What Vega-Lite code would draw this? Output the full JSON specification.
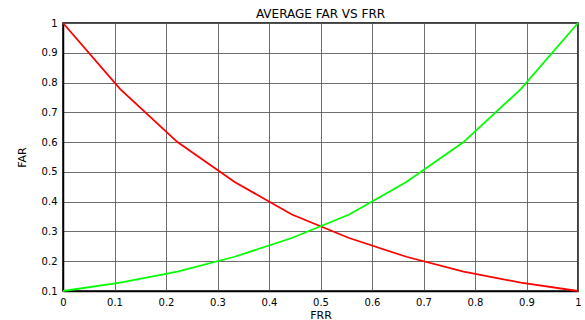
{
  "$schema": "https://vega.github.io/schema/vega-lite/v6.json",
  "width": 515,
  "height": 268,
  "autosize": {"type": "none"},
  "padding": {"left": 63, "top": 23, "right": 7, "bottom": 29},
  "background": "white",
  "title": {"text": "AVERAGE FAR VS FRR", "font": "DejaVu Sans", "fontSize": 12, "fontWeight": "normal", "color": "#000000", "offset": 5, "dy": 8},
  "config": {
    "view": {"stroke": "#000000", "strokeWidth": 1.5},
    "axis": {
      "labelFont": "DejaVu Sans", "labelFontSize": 10, "labelColor": "#000000",
      "titleFont": "DejaVu Sans", "titleFontSize": 11, "titleFontWeight": "normal", "titleColor": "#000000",
      "domainColor": "#000000", "domainWidth": 1.5,
      "gridColor": "#555555", "gridOpacity": 0.85, "gridWidth": 1,
      "ticks": false
    }
  },
  "data": {
    "values": [
      {"frr": 0, "far": 1.0, "series": "A"},
      {"frr": 0.1111, "far": 0.778, "series": "A"},
      {"frr": 0.2222, "far": 0.600, "series": "A"},
      {"frr": 0.3333, "far": 0.466, "series": "A"},
      {"frr": 0.4444, "far": 0.357, "series": "A"},
      {"frr": 0.5556, "far": 0.278, "series": "A"},
      {"frr": 0.6667, "far": 0.215, "series": "A"},
      {"frr": 0.7778, "far": 0.165, "series": "A"},
      {"frr": 0.8889, "far": 0.128, "series": "A"},
      {"frr": 1, "far": 0.1, "series": "A"},
      {"frr": 0, "far": 0.1, "series": "B"},
      {"frr": 0.1111, "far": 0.128, "series": "B"},
      {"frr": 0.2222, "far": 0.165, "series": "B"},
      {"frr": 0.3333, "far": 0.215, "series": "B"},
      {"frr": 0.4444, "far": 0.278, "series": "B"},
      {"frr": 0.5556, "far": 0.357, "series": "B"},
      {"frr": 0.6667, "far": 0.466, "series": "B"},
      {"frr": 0.7778, "far": 0.600, "series": "B"},
      {"frr": 0.8889, "far": 0.778, "series": "B"},
      {"frr": 1, "far": 1.0, "series": "B"}
    ]
  },
  "mark": {"type": "line", "strokeWidth": 1.8},
  "encoding": {
    "x": {
      "field": "frr", "type": "quantitative", "title": "FRR",
      "scale": {"domain": [0, 1], "nice": false, "zero": false},
      "axis": {"values": [0, 0.1, 0.2, 0.3, 0.4, 0.5, 0.6, 0.7, 0.8, 0.9, 1], "format": "~g", "labelPadding": 6, "titlePadding": 2, "labelFlush": false}
    },
    "y": {
      "field": "far", "type": "quantitative", "title": "FAR",
      "scale": {"domain": [0.1, 1], "nice": false, "zero": false},
      "axis": {"values": [0.1, 0.2, 0.3, 0.4, 0.5, 0.6, 0.7, 0.8, 0.9, 1], "format": "~g", "labelPadding": 6, "titlePadding": 14, "labelFlush": false}
    },
    "color": {
      "field": "series", "type": "nominal", "legend": null,
      "scale": {"domain": ["A", "B"], "range": ["#ff0000", "#00ff00"]}
    }
  }
}
